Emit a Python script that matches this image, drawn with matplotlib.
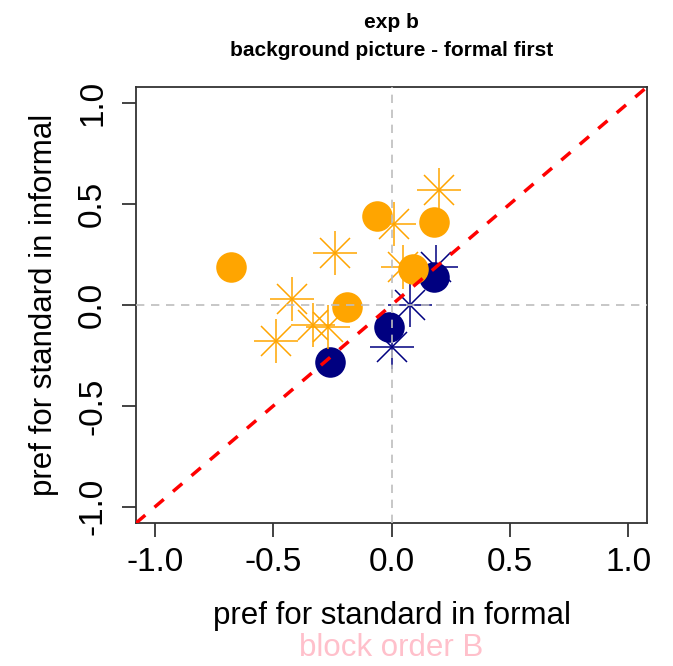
import matplotlib
matplotlib.use("Agg")
import matplotlib.pyplot as plt
import numpy as np

plt.rcParams['font.family'] = ['Liberation Sans', 'DejaVu Sans']

# data
orange_circ_x = [-0.68, -0.06, 0.18, 0.09, -0.19]
orange_circ_y = [0.19, 0.44, 0.41, 0.18, -0.01]
navy_circ_x = [-0.26, -0.01, 0.18]
navy_circ_y = [-0.28, -0.11, 0.14]
orange_star_x = [0.20, 0.01, -0.24, 0.05, -0.42, -0.33, -0.27, -0.49]
orange_star_y = [0.57, 0.40, 0.26, 0.19, 0.03, -0.10, -0.11, -0.18]
navy_star_x = [0.19, 0.08, 0.00]
navy_star_y = [0.19, 0.00, -0.21]
ticks = [-1.0, -0.5, 0.0, 0.5, 1.0]
tick_labels = ["-1.0", "-0.5", "0.0", "0.5", "1.0"]

ORANGE = "#FFA500"
NAVY = "#000080"

fig = plt.figure(figsize=(6.73, 6.66), dpi=100)
ax = fig.add_axes([0.2021, 0.2147, 0.7593, 0.6547])
ax.set_xlim(-1.08, 1.08)
ax.set_ylim(-1.08, 1.08)

circ_ms = 22
plus_ms = 31
x_ms = plus_ms / np.sqrt(2)


def stars(x, y, c):
    ax.plot(x, y, ls='none', marker='+', ms=plus_ms, mew=1.1, color=c, zorder=3)
    ax.plot(x, y, ls='none', marker='x', ms=x_ms, mew=1.1, color=c, zorder=3)


ax.plot(navy_circ_x, navy_circ_y, ls='none', marker='o', ms=circ_ms, color=NAVY, mec='none', zorder=3)
stars(navy_star_x, navy_star_y, NAVY)
stars(orange_star_x, orange_star_y, ORANGE)
ax.plot(orange_circ_x, orange_circ_y, ls='none', marker='o', ms=circ_ms, color=ORANGE, mec='none', zorder=3)

ax.axhline(0, color='#BEBEBE', lw=1.2, dashes=(5, 4), zorder=4)
ax.axvline(0, color='#BEBEBE', lw=1.2, dashes=(5, 4), zorder=4)
ax.plot([-1.08, 1.08], [-1.08, 1.08], color='#FF0000', lw=2.5, dashes=(3.5, 3.5), zorder=5)

ax.set_xticks(ticks)
ax.set_xticklabels(tick_labels)
ax.set_yticks(ticks)
ax.set_yticklabels(tick_labels, rotation=90, va='center')
ax.tick_params(axis='both', labelsize=24, length=10, width=1.2, pad=7, color='#222222')
ax.tick_params(axis='y', pad=10)
for s in ax.spines.values():
    s.set_linewidth(1.3)
    s.set_color('#333333')

ax.set_xlabel("pref for standard in formal", fontsize=22.5, labelpad=17)
ax.set_ylabel("pref for standard in informal", fontsize=22.5, labelpad=13)
fig.text(0.5 * (136 + 647) / 673, 1 - 648 / 666, "block order B", color='#FFC0CB',
         fontsize=22.5, ha='center', va='center')
fig.text(0.5 * (136 + 647) / 673, 1 - 36 / 666, "exp b\nbackground picture - formal first",
         fontsize=15, fontweight='bold', ha='center', va='center', linespacing=1.6)

fig.savefig("out.png", dpi=100)
